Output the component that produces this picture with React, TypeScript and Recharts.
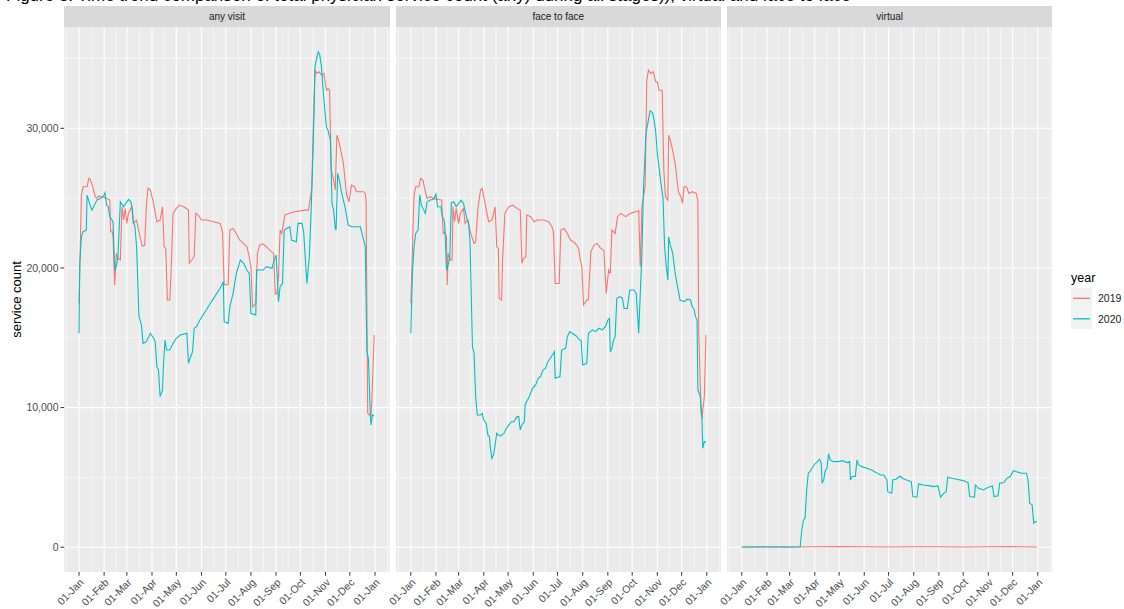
import { LineChart, Line, XAxis, YAxis, CartesianGrid } from "recharts";

const FONT = '"Liberation Sans", Arial, sans-serif';
const RED = "#F8766D";
const TEAL = "#00BFC4";

const TITLE =
  "Figure 3. Time trend comparison of total physician service count (any) during all stages)), virtual and face to face";
const PANELS = ["any visit", "face to face", "virtual"];
const YEARS = ["2019", "2020"];

// day of year (0 = 01-Jan) for the month breaks
const MONTH_TICKS = [0, 31, 59, 90, 120, 151, 181, 212, 243, 273, 304, 334, 365];
const MONTH_LABELS = [
  "01-Jan", "01-Feb", "01-Mar", "01-Apr", "01-May", "01-Jun", "01-Jul",
  "01-Aug", "01-Sep", "01-Oct", "01-Nov", "01-Dec", "01-Jan",
];
const MINOR_X = [-15.5, 15.5, 45, 74.5, 105, 135.5, 166, 196.5, 227.5, 258, 288.5, 319, 349.5, 380.5];
const Y_TICKS = [0, 10000, 20000, 30000];
const MINOR_Y = [5000, 15000, 25000, 35000];

// [day, service count]
const ANY_2019 = [
  [0, 17470], [3, 25220], [5, 25810], [10, 25810], [12, 26410], [14, 26340], [17, 25810], [20, 25100],
  [22, 24980], [24, 25140], [30, 25100], [38, 24860], [39, 22590], [41, 22590], [42, 22230], [44, 18770],
  [46, 21040], [48, 20690], [51, 20570], [53, 24380], [55, 23440], [57, 24260], [59, 23190], [61, 23910],
  [65, 24380], [67, 23190], [71, 23430], [75, 22290], [78, 21570], [81, 21620], [83, 24380], [85, 25700],
  [88, 25580], [92, 24620], [96, 23310], [100, 23430], [103, 24380], [105, 21520], [107, 21400], [109, 17700],
  [112, 17700], [114, 20440], [116, 23910], [120, 24260], [124, 24500], [129, 24380], [135, 24140], [136, 20330],
  [139, 20570], [142, 20810], [144, 23910], [147, 23790], [151, 23430], [157, 23430], [166, 23310], [174, 23190],
  [177, 22590], [179, 18780], [184, 18830], [186, 22710], [190, 22830], [194, 22470], [198, 22000], [203, 21760],
  [207, 21520], [210, 20800], [212, 20090], [214, 17220], [216, 17340], [218, 17460], [220, 21040], [223, 21650],
  [227, 21720], [231, 21520], [235, 21280], [240, 21040], [242, 18130], [244, 18180], [246, 19370], [248, 22710],
  [250, 22470], [254, 23790], [260, 23910], [266, 24030], [279, 24140], [283, 24140], [287, 25700], [289, 30350],
  [291, 34170], [293, 33930], [296, 34050], [299, 33810], [302, 33930], [305, 32730], [307, 32850], [309, 32730],
  [311, 27010], [314, 26290], [316, 25580], [318, 29510], [320, 29150], [322, 28670], [326, 27490], [330, 25220],
  [333, 24740], [336, 25930], [340, 25810], [342, 25460], [351, 25460], [353, 25340], [354, 24800], [356, 9610],
  [358, 9470], [360, 9400], [361, 10330], [364, 15200],
];
const ANY_2020 = [
  [0, 15320], [1, 20350], [3, 22240], [5, 22590], [9, 22710], [10, 25220], [13, 24620], [16, 24140],
  [22, 24860], [26, 24980], [30, 25100], [32, 25390], [34, 24500], [36, 24380], [38, 23670], [42, 23310],
  [44, 19850], [46, 20090], [48, 20800], [51, 24740], [55, 24380], [61, 24910], [64, 24740], [66, 24140],
  [67, 23310], [69, 22950], [71, 21520], [74, 16510], [77, 15910], [79, 14600], [83, 14720], [88, 15320],
  [92, 14960], [94, 14730], [96, 12930], [98, 12690], [100, 10780], [103, 11260], [104, 12810], [106, 14840],
  [108, 14120], [112, 14120], [116, 14600], [120, 14960], [125, 15200], [133, 15320], [135, 13170], [137, 13530],
  [140, 14000], [142, 15680], [145, 15800], [149, 16270], [153, 16630], [157, 16990], [162, 17470], [166, 17820],
  [174, 18540], [178, 19010], [179, 16150], [184, 16030], [186, 17220], [190, 18180], [194, 19610], [199, 20570],
  [203, 20330], [207, 19850], [210, 19610], [212, 16750], [218, 16630], [219, 19850], [227, 19850], [231, 20090],
  [238, 19970], [240, 20440], [243, 20920], [246, 17580], [248, 18650], [251, 18890], [253, 22710], [256, 22830],
  [260, 22950], [262, 22000], [268, 21880], [270, 23190], [275, 23190], [277, 22590], [281, 18890], [284, 20800],
  [286, 23670], [287, 25340], [289, 29150], [291, 34400], [293, 35000], [295, 35480], [297, 35240], [299, 34400],
  [301, 32730], [305, 30110], [307, 29870], [310, 29150], [312, 24620], [314, 24140], [316, 22830], [317, 22710],
  [319, 26770], [321, 26290], [324, 25340], [328, 24380], [332, 23070], [336, 22950], [347, 22950], [351, 22000],
  [353, 21520], [355, 14120], [357, 13400], [359, 9830], [360, 8760], [362, 9470], [364, 9400],
];
const FTF_2019 = [
  [0, 17470], [4, 25220], [6, 25810], [10, 25810], [12, 26410], [15, 26290], [17, 25700], [20, 24980],
  [24, 25100], [28, 24980], [38, 24860], [40, 22470], [42, 22590], [44, 22230], [45, 18780], [46, 21040],
  [49, 20570], [51, 20570], [52, 24380], [54, 23310], [56, 24260], [59, 23190], [61, 23910], [65, 24260],
  [67, 23190], [70, 23430], [74, 22470], [78, 21760], [80, 21880], [83, 24380], [86, 25580], [88, 25700],
  [92, 24500], [96, 23310], [100, 23430], [104, 24380], [106, 21520], [108, 21400], [109, 17820], [112, 17700],
  [113, 20330], [116, 23910], [121, 24380], [126, 24500], [131, 24260], [135, 24140], [137, 20330], [139, 20690],
  [142, 20810], [143, 23790], [148, 23670], [152, 23310], [156, 23430], [164, 23430], [170, 23310], [174, 22950],
  [176, 22590], [178, 18890], [183, 18890], [185, 22710], [189, 22830], [193, 22470], [197, 22000], [203, 21760],
  [207, 21400], [209, 20570], [211, 20090], [213, 17340], [217, 17700], [219, 17700], [222, 21160], [226, 21640],
  [230, 21760], [234, 21400], [238, 21280], [241, 18180], [244, 19850], [246, 19610], [248, 22710], [252, 22470],
  [255, 23670], [259, 23910], [265, 23670], [271, 23910], [277, 24030], [281, 24100], [283, 20090], [285, 24380],
  [289, 25810], [291, 33450], [293, 34170], [296, 33930], [299, 34050], [302, 33330], [304, 33330], [306, 32730],
  [310, 32730], [312, 27010], [314, 25100], [317, 24860], [318, 29510], [320, 29150], [322, 28670], [326, 27490],
  [330, 25460], [333, 25100], [335, 24620], [337, 25810], [340, 25810], [343, 25340], [347, 25460], [352, 25340],
  [354, 24800], [355, 15500], [358, 9600], [359, 9230], [361, 10310], [362, 10800], [364, 15200],
];
const FTF_2020 = [
  [0, 15320], [2, 19610], [4, 21520], [6, 22470], [9, 22710], [11, 25220], [13, 24500], [16, 24140],
  [18, 23910], [20, 24740], [24, 24860], [28, 24910], [31, 25290], [33, 24380], [37, 24380], [39, 23670],
  [41, 23430], [42, 22950], [44, 19850], [45, 19970], [48, 20690], [50, 24670], [53, 24740], [56, 24380],
  [62, 24860], [65, 24620], [69, 23550], [71, 23310], [73, 22000], [76, 14360], [78, 13890], [80, 10780],
  [82, 9470], [86, 9470], [88, 9590], [90, 9110], [93, 8870], [95, 8040], [97, 7920], [98, 7200],
  [100, 6370], [102, 6610], [104, 7320], [106, 8160], [108, 8040], [111, 7970], [115, 8160], [118, 8520],
  [121, 8760], [124, 8990], [127, 8990], [131, 9350], [133, 9350], [135, 8400], [137, 8760], [140, 8990],
  [141, 10190], [143, 10430], [146, 10780], [150, 11380], [154, 11620], [157, 12100], [160, 12220], [163, 12690],
  [166, 12810], [169, 13290], [172, 13530], [176, 13890], [177, 14000], [178, 12100], [184, 12220], [186, 14120],
  [191, 14240], [193, 15080], [196, 15440], [199, 15320], [204, 15130], [208, 14840], [210, 14840], [212, 13050],
  [217, 13170], [219, 15320], [224, 15560], [228, 15440], [232, 15680], [236, 15560], [240, 15800], [243, 16270],
  [245, 16390], [246, 14000], [248, 14240], [250, 14840], [252, 15080], [254, 17820], [258, 17940], [261, 17820],
  [263, 17100], [267, 17100], [270, 18420], [275, 18420], [278, 18180], [281, 15320], [282, 16750], [285, 21040],
  [287, 25810], [290, 29630], [293, 30590], [295, 31250], [298, 31130], [300, 30590], [302, 29750], [304, 28200],
  [308, 26290], [311, 24980], [313, 21520], [315, 20090], [317, 19130], [318, 22230], [320, 21640], [323, 21040],
  [326, 19610], [329, 18650], [332, 17700], [337, 17580], [341, 17760], [345, 17700], [347, 17220], [349, 17100],
  [351, 16510], [353, 16270], [354, 11260], [357, 10780], [359, 9350], [360, 7090], [362, 7560], [364, 7560],
];
const VIRT_2019 = [
  [0, 20], [31, 30], [59, 20], [90, 30], [120, 40], [151, 30], [181, 20], [212, 30], [243, 30], [273, 20],
  [304, 30], [334, 40], [364, 20],
];
const VIRT_2020 = [
  [0, 20], [30, 10], [60, 20], [72, 30], [74, 1240], [76, 1950], [78, 2070], [80, 4100], [82, 5300],
  [84, 5420], [86, 5580], [89, 5890], [92, 6060], [96, 6300], [98, 6000], [99, 4580], [101, 4820], [103, 5510],
  [105, 5630], [107, 6680], [109, 6250], [113, 6130], [119, 6130], [124, 6200], [130, 6060], [133, 6130],
  [134, 4820], [136, 5060], [140, 5060], [142, 6250], [144, 5890], [148, 5770], [154, 5650], [160, 5530],
  [166, 5340], [171, 5170], [175, 5170], [179, 4820], [180, 3980], [185, 3860], [186, 4820], [190, 4870],
  [195, 5100], [198, 4940], [203, 4820], [209, 4700], [211, 3630], [216, 3580], [218, 4530], [224, 4460],
  [232, 4390], [236, 4340], [242, 4390], [245, 3580], [249, 3860], [252, 3980], [254, 5010], [259, 4940],
  [265, 4870], [273, 4770], [279, 4630], [281, 3630], [287, 3580], [288, 4460], [292, 4220], [298, 4100],
  [304, 4290], [309, 4390], [311, 3630], [316, 3680], [318, 4580], [323, 4630], [327, 4940], [331, 5060],
  [335, 5480], [338, 5420], [345, 5300], [351, 5300], [353, 4820], [355, 3150], [358, 3030], [360, 1720],
  [362, 1840], [364, 1840],
];

const SERIES = [
  [ANY_2019, ANY_2020],
  [FTF_2019, FTF_2020],
  [VIRT_2019, VIRT_2020],
];

const toPoints = (rows: number[][]) => rows.map(([day, value]) => ({ day, value }));

const PANEL_W = 325.6;
const PANEL_LEFT = [64.2, 395.5, 726.9];
const Y_AXIS_W = 64.2;
const LABEL_ROOM = 30; // room left of panels 2 and 3 for the first rotated label

function MonthTick({ x, y, payload }: any) {
  const label = MONTH_LABELS[MONTH_TICKS.indexOf(payload.value)];
  return (
    <text
      x={x}
      y={y}
      dy="0.72em"
      textAnchor="end"
      transform={`rotate(-45 ${x} ${y})`}
      fill="#4D4D4D"
      fontSize={10.5}
      fontFamily={FONT}
    >
      {label}
    </text>
  );
}

function Panel({ index }: { index: number }) {
  const showY = index === 0;
  const lm = showY ? 0 : LABEL_ROOM;
  const yw = showY ? Y_AXIS_W : 0;
  const offset = lm + yw;
  const [s2019, s2020] = SERIES[index];
  return (
    <div style={{ position: "absolute", left: PANEL_LEFT[index] - offset, top: 0 }}>
      <LineChart width={PANEL_W + offset} height={609} margin={{ top: 27, right: 0, bottom: 0, left: lm }}>
        <CartesianGrid
          fill="#EBEBEB"
          stroke="#FFFFFF"
          strokeWidth={0.55}
          verticalValues={MINOR_X}
          horizontalValues={MINOR_Y}
        />
        <CartesianGrid stroke="#FFFFFF" strokeWidth={1.1} verticalValues={MONTH_TICKS} horizontalValues={Y_TICKS} />
        <XAxis
          dataKey="day"
          type="number"
          domain={[-18.25, 383.25]}
          ticks={MONTH_TICKS}
          interval={0}
          allowDataOverflow
          height={37}
          axisLine={false}
          tickSize={3.7}
          tickLine={{ stroke: "#333333" }}
          tick={<MonthTick />}
        />
        <YAxis
          hide={!showY}
          type="number"
          domain={[-1775, 37255]}
          allowDataOverflow
          ticks={Y_TICKS}
          interval={0}
          width={Y_AXIS_W}
          axisLine={false}
          tickSize={3.7}
          tickMargin={2}
          tickLine={{ stroke: "#333333" }}
          tick={{ fill: "#4D4D4D", fontSize: 10.5, fontFamily: FONT }}
          tickFormatter={(v: number) => v.toLocaleString("en-US")}
        />
        <Line
          data={toPoints(s2019)}
          dataKey="value"
          name={YEARS[0]}
          stroke={RED}
          strokeWidth={1.1}
          dot={false}
          isAnimationActive={false}
        />
        <Line
          data={toPoints(s2020)}
          dataKey="value"
          name={YEARS[1]}
          stroke={TEAL}
          strokeWidth={1.1}
          dot={false}
          isAnimationActive={false}
        />
      </LineChart>
      <div
        style={{
          position: "absolute",
          left: offset,
          top: 6,
          width: PANEL_W,
          height: 21,
          background: "#D9D9D9",
          color: "#1A1A1A",
          fontFamily: FONT,
          fontSize: 10,
          lineHeight: "21px",
          textAlign: "center",
        }}
      >
        {PANELS[index]}
      </div>
    </div>
  );
}

export default function App() {
  return (
    <div
      style={{
        position: "absolute",
        left: 0,
        top: 0,
        width: 1124,
        height: 609,
        background: "#FFFFFF",
        overflow: "hidden",
        fontFamily: FONT,
      }}
    >
      {PANELS.map((_, i) => (
        <Panel key={i} index={i} />
      ))}
      <svg width={1124} height={609} style={{ position: "absolute", left: 0, top: 0, pointerEvents: "none" }}>
        <text x={6} y={0.5} fontSize={17} fontFamily={FONT} fill="#000000">
          {TITLE}
        </text>
        <text
          x={0}
          y={0}
          transform="translate(21 299.5) rotate(-90)"
          textAnchor="middle"
          fontSize={13}
          fontFamily={FONT}
          fill="#000000"
        >
          service count
        </text>
        <text x={1071} y={281.5} fontSize={12.5} fontFamily={FONT} fill="#000000">
          year
        </text>
        {YEARS.map((yr, i) => (
          <g key={yr}>
            <rect x={1071} y={288 + i * 20.5} width={21} height={20.5} fill="#F2F2F2" />
            <line
              x1={1073}
              x2={1090}
              y1={298.3 + i * 20.5}
              y2={298.3 + i * 20.5}
              stroke={i === 0 ? RED : TEAL}
              strokeWidth={1.3}
            />
            <text x={1098} y={302 + i * 20.5} fontSize={10.5} fontFamily={FONT} fill="#1A1A1A">
              {yr}
            </text>
          </g>
        ))}
      </svg>
    </div>
  );
}
